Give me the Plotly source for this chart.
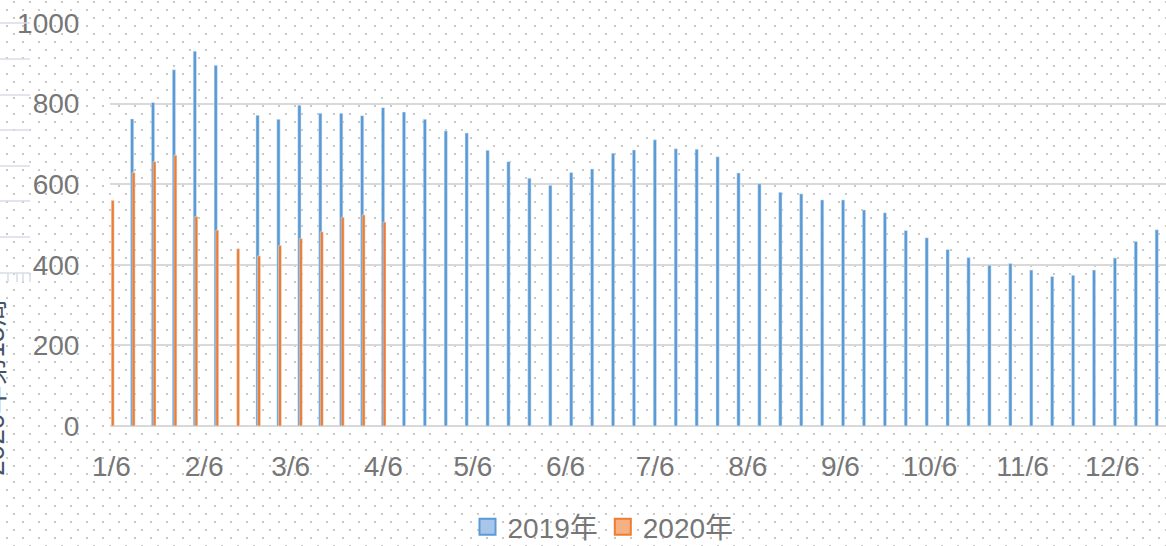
import base64
import pandas as pd
import plotly.graph_objects as go

# ---------------- data ----------------
week_start = "2020-01-06"
n_weeks = 51
weeks = pd.date_range(week_start, periods=n_weeks, freq="7D")

series_2019 = [None, 762, 803, 884, 930, 895, None, 771, 761, 796, 776, 776, 770,
               790, 779, 761, 732, 727, 684, 656, 615, 597, 629, 638, 677, 685,
               710, 688, 687, 668, 628, 601, 580, 576, 561, 561, 536, 529, 485,
               467, 438, 418, 399, 403, 387, 371, 374, 387, 417, 458, 487]
series_2020 = [560, 629, 656, 672, 520, 486, 440, 422, 448, 465, 482, 518, 524, 506]

tick_dates = ["2020-%02d-06" % m for m in range(1, 13)]
tick_labels = ["1/6", "2/6", "3/6", "4/6", "5/6", "6/6", "7/6", "8/6", "9/6",
               "10/6", "11/6", "12/6"]
y_ticks = [0, 200, 400, 600, 800, 1000]
names = ["2019年", "2020年"]

# ---------------- style ----------------
W, H = 1166, 546
ML, MR, MT, MB = 110, 0, 23, 120
PW, PH = W - ML - MR, H - MT - MB
DAY = 86400000
FONT = "Liberation Sans, Noto Sans CJK SC, sans-serif"
TXT = "#767676"
BLUE, ORANGE = "#5B9BD5", "#ED7D31"

fig = go.Figure()
fig.add_trace(go.Bar(x=weeks, y=series_2019, name=names[0], marker_color=BLUE,
                     width=1.1 * DAY, offset=-0.65 * DAY, showlegend=False))
fig.add_trace(go.Bar(x=weeks[:len(series_2020)], y=series_2020, name=names[1],
                     marker_color=ORANGE, width=1.0 * DAY, offset=-0.1 * DAY,
                     showlegend=False))
# legend entries
fig.add_trace(go.Scatter(x=[None], y=[None], mode="markers", name=names[0],
                         marker=dict(symbol="square", size=16, color="#A9C5EA",
                                     line=dict(color=BLUE, width=2))))
fig.add_trace(go.Scatter(x=[None], y=[None], mode="markers", name=names[1],
                         marker=dict(symbol="square", size=16, color="#F4B183",
                                     line=dict(color=ORANGE, width=2))))

# dotted background pattern as an inline svg image
svg = (f'<svg xmlns="http://www.w3.org/2000/svg" width="{W}" height="{H}">'
       '<defs><pattern id="p" width="16" height="16" patternUnits="userSpaceOnUse">'
       '<rect x="13" y="1" width="2" height="2" fill="#C9C9C9"/>'
       '<rect x="6" y="9" width="2" height="2" fill="#C9C9C9"/>'
       '</pattern></defs>'
       f'<rect width="{W}" height="{H}" fill="url(#p)"/></svg>')
src = "data:image/svg+xml;base64," + base64.b64encode(svg.encode()).decode()


def px_x(p):
    return (p - ML) / PW


def px_y(p):
    return (H - MB - p) / PH


shapes = []
for yy in [23, 59, 95, 130, 166, 201, 237, 273]:
    shapes.append(dict(type="line", xref="paper", yref="paper", x0=px_x(0), x1=px_x(30),
                       y0=px_y(yy), y1=px_y(yy), line=dict(color="#D9DEE6", width=1.5)))
for xx in [8, 17, 23, 30]:
    shapes.append(dict(type="line", xref="paper", yref="paper", x0=px_x(xx), x1=px_x(xx),
                       y0=px_y(273), y1=px_y(282), line=dict(color="#D9DEE6", width=1.5)))

fig.update_layout(
    width=W, height=H,
    margin=dict(l=ML, r=MR, t=MT, b=MB, autoexpand=False),
    paper_bgcolor="white", plot_bgcolor="rgba(0,0,0,0)",
    barmode="overlay",
    font=dict(family=FONT, size=28, color=TXT),
    images=[dict(source=src, xref="paper", yref="paper", x=px_x(0), y=px_y(0),
                 sizex=W / PW, sizey=H / PH, xanchor="left", yanchor="top",
                 sizing="stretch", layer="below")],
    shapes=shapes,
    annotations=[dict(text="2020年第15周", xref="paper", yref="paper",
                      x=px_x(-6), y=px_y(388), showarrow=False, textangle=-90,
                      font=dict(family=FONT, size=28, color="#44546A"),
                      xanchor="center", yanchor="middle")],
    legend=dict(orientation="h", x=px_x(603), xanchor="center", y=px_y(527),
                yanchor="middle", font=dict(size=28, color=TXT), itemwidth=30,
                bgcolor="rgba(0,0,0,0)"),
    xaxis=dict(type="date", range=["2020-01-05 12:00", "2020-12-24"],
               tickvals=tick_dates, ticktext=tick_labels, showgrid=False,
               ticks="outside", ticklen=15, tickcolor="rgba(0,0,0,0)",
               showline=False, zeroline=False, automargin=False),
    yaxis=dict(range=[0, 1000], tickvals=y_ticks, showgrid=True,
               gridcolor="#D9D9D9", gridwidth=2, zeroline=True,
               zerolinecolor="#D9D9D9", zerolinewidth=2, automargin=False,
               ticks="outside", ticklen=24, tickcolor="rgba(0,0,0,0)",
               showline=False),
)

fig.write_html("out.html", config={"displayModeBar": False},
               post_script="document.body.style.margin='0';"
                           "document.body.style.overflow='hidden';")
